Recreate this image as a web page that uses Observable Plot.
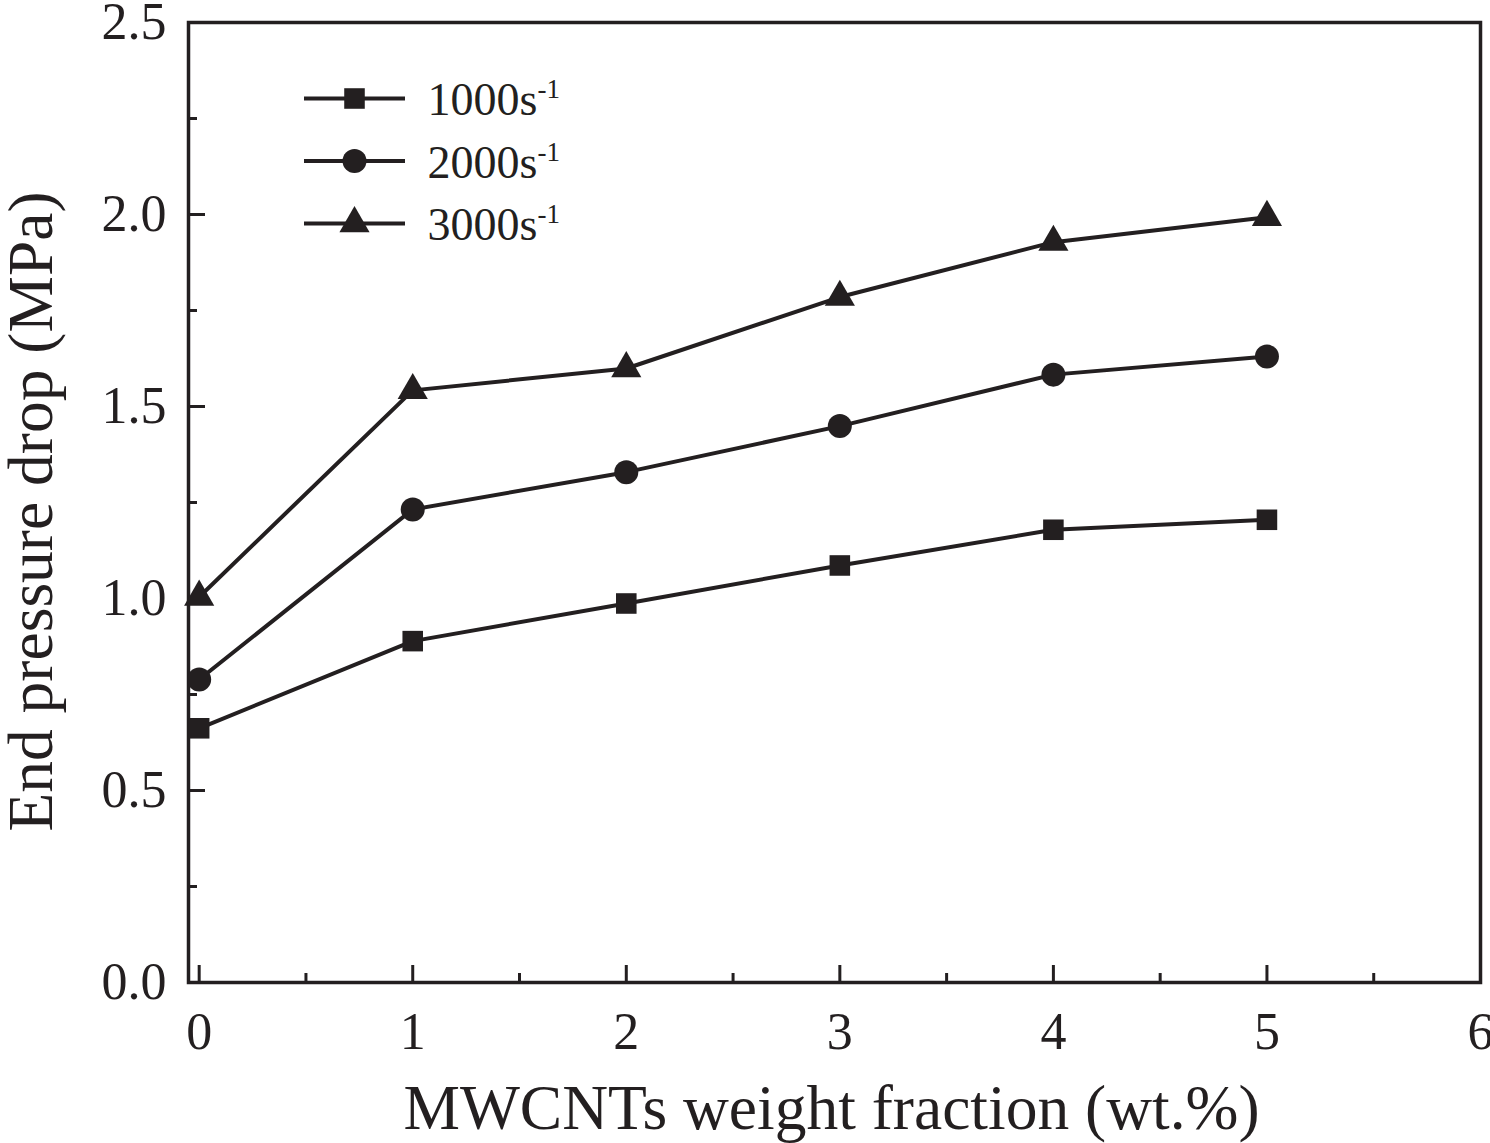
<!DOCTYPE html>
<html>
<head>
<meta charset="utf-8">
<script src="https://cdn.jsdelivr.net/npm/d3@7"></script>
<script src="https://cdn.jsdelivr.net/npm/@observablehq/plot@0.6"></script>
<style>
  html, body { margin: 0; padding: 0; background: #fff; }
  #chart { width: 1490px; height: 1143px; }
</style>
</head>
<body>
<div id="chart"></div>
<script>
// ---- data ----
const fractions = [0, 1, 2, 3, 4, 5];
const series = ["1000", "2000", "3000"];
const p1000 = [0.662, 0.889, 0.987, 1.086, 1.179, 1.205];
const p2000 = [0.789, 1.232, 1.329, 1.449, 1.583, 1.630];
const p3000 = [1.004, 1.542, 1.599, 1.785, 1.928, 1.993];
const xMajor = [0, 1, 2, 3, 4, 5, 6];
const xMinor = [0.5, 1.5, 2.5, 3.5, 4.5, 5.5];
const yMajor = [0, 0.5, 1.0, 1.5, 2.0, 2.5];
const yMinor = [0.25, 0.75, 1.25, 1.75, 2.25];
const xTitle = "MWCNTs weight fraction (wt.%)";
const yTitle = "End pressure drop (MPa)";

const values = {"1000": p1000, "2000": p2000, "3000": p3000};
const symbols = {"1000": "square", "2000": "circle", "3000": "triangle"};
const radii = {"1000": 11.6, "2000": 12, "3000": 11.2};
const rows = series.flatMap(s => fractions.map((f, i) => ({series: s, x: f, y: values[s][i]})));

const ink = "#231f20";
const lineSym = { draw(ctx) { ctx.moveTo(-50.5, 0); ctx.lineTo(50.5, 0); } };

const marks = [
  Plot.axisX({ticks: xMajor, tickSize: -17, text: null, label: null, strokeWidth: 3, stroke: ink}),
  Plot.axisX({ticks: xMinor, tickSize: -9, text: null, label: null, strokeWidth: 3, stroke: ink}),
  Plot.axisX({ticks: xMajor, tickSize: 0, tickPadding: 30, label: null, fontSize: 52, fill: ink, tickFormat: d3.format("d")}),
  Plot.axisY({ticks: yMajor, tickSize: -17, text: null, label: null, strokeWidth: 3, stroke: ink}),
  Plot.axisY({ticks: yMinor, tickSize: -9, text: null, label: null, strokeWidth: 3, stroke: ink}),
  Plot.axisY({ticks: yMajor, tickSize: 0, tickPadding: 22, label: null, fontSize: 52, fill: ink, tickFormat: d3.format(".1f")}),
  Plot.frame({stroke: ink, strokeWidth: 3.5}),
  Plot.line(rows, {x: "x", y: "y", z: "series", stroke: ink, strokeWidth: 4}),
  ...series.map(s => Plot.dot(rows.filter(d => d.series === s), {x: "x", y: "y", symbol: symbols[s], r: radii[s], fill: ink, stroke: "none"})),
  Plot.text([xTitle], {frameAnchor: "bottom", dy: 126, dx: -3, textAnchor: "middle", lineAnchor: "middle", fontSize: 63.5, fill: ink}),
  Plot.text([yTitle], {frameAnchor: "left", dx: -157, dy: 9, rotate: -90, textAnchor: "middle", lineAnchor: "middle", fontSize: 63.5, fill: ink}),
  ...series.flatMap((s, i) => [
    Plot.dot([s], {frameAnchor: "top-left", dx: 166, dy: 76 + 62.5 * i, symbol: lineSym, stroke: ink, strokeWidth: 4, fill: "none"}),
    Plot.dot([s], {frameAnchor: "top-left", dx: 166, dy: 76 + 62.5 * i, symbol: symbols[s], r: radii[s], fill: ink, stroke: "none"}),
    Plot.text([s + "s"], {frameAnchor: "top-left", dx: 239, dy: 78 + 62.5 * i, textAnchor: "start", lineAnchor: "middle", fontSize: 46, fill: ink})
  ])
];

const chart = Plot.plot({
  width: 1490,
  height: 1143,
  marginLeft: 188,
  marginRight: 10,
  marginTop: 22,
  marginBottom: 161,
  x: {domain: [-0.05, 6]},
  y: {domain: [0, 2.5]},
  style: {fontFamily: "'Liberation Serif', 'Times New Roman', serif", background: "#fff", color: ink},
  marks
});

// add superscript "-1" to legend labels
chart.querySelectorAll("text").forEach(t => {
  if (/^\d000s$/.test(t.textContent)) {
    const ts = document.createElementNS("http://www.w3.org/2000/svg", "tspan");
    ts.setAttribute("font-size", "27");
    ts.setAttribute("dy", "-17");
    ts.textContent = "-1";
    t.appendChild(ts);
  }
});

document.getElementById("chart").appendChild(chart);
</script>
</body>
</html>
